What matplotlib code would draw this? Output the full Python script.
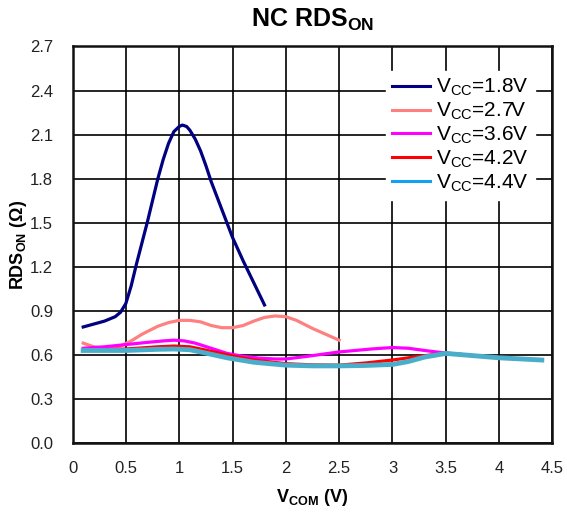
import matplotlib
matplotlib.use("Agg")
import matplotlib.pyplot as plt
from matplotlib.lines import Line2D

plt.rcParams['font.family'] = ['Liberation Sans', 'DejaVu Sans']
plt.rcParams['mathtext.fontset'] = 'custom'
plt.rcParams['mathtext.rm'] = 'Liberation Sans'
plt.rcParams['mathtext.bf'] = 'Liberation Sans:bold'
plt.rcParams['mathtext.it'] = 'Liberation Sans:italic'

# Data
x_18 = [0.1, 0.2, 0.3, 0.4, 0.45, 0.5, 0.55, 0.6, 0.65, 0.7, 0.75, 0.8, 0.85, 0.9,
        0.95, 1.0, 1.03, 1.07, 1.1, 1.15, 1.2, 1.25, 1.3, 1.4, 1.5, 1.6, 1.7, 1.8]
y_18 = [0.79, 0.81, 0.83, 0.86, 0.89, 0.95, 1.07, 1.22, 1.36, 1.50, 1.65, 1.80, 1.93, 2.04,
        2.12, 2.155, 2.165, 2.155, 2.13, 2.07, 1.99, 1.89, 1.78, 1.59, 1.40, 1.24, 1.09, 0.94]

x_27 = [0.1, 0.2, 0.3, 0.45, 0.55, 0.65, 0.8, 0.9, 1.0, 1.1, 1.2, 1.3, 1.4, 1.5, 1.6,
        1.7, 1.8, 1.9, 2.0, 2.1, 2.25, 2.5]
y_27 = [0.68, 0.655, 0.645, 0.66, 0.695, 0.74, 0.795, 0.82, 0.835, 0.835, 0.825, 0.80, 0.785,
        0.785, 0.80, 0.83, 0.855, 0.865, 0.86, 0.835, 0.78, 0.70]

x_36 = [0.1, 0.3, 0.5, 0.7, 0.85, 0.95, 1.05, 1.15, 1.3, 1.45, 1.6, 1.75, 1.9, 2.0, 2.2,
        2.5, 2.8, 3.0, 3.15, 3.3, 3.5, 4.0, 4.4]
y_36 = [0.645, 0.655, 0.67, 0.685, 0.695, 0.70, 0.695, 0.68, 0.645, 0.61, 0.59, 0.578, 0.572,
        0.572, 0.59, 0.62, 0.64, 0.65, 0.645, 0.63, 0.612, 0.58, 0.565]

x_42 = [0.1, 0.5, 0.8, 0.95, 1.1, 1.2, 1.45, 1.7, 2.0, 2.25, 2.5, 2.75, 3.0, 3.25, 3.5, 4.0, 4.4]
y_42 = [0.63, 0.64, 0.655, 0.66, 0.655, 0.64, 0.60, 0.565, 0.54, 0.532, 0.53, 0.545, 0.565,
        0.59, 0.612, 0.58, 0.565]

x_44 = [0.1, 0.5, 0.8, 0.95, 1.1, 1.2, 1.45, 1.7, 2.0, 2.25, 2.5, 2.75, 3.0, 3.15, 3.3,
        3.5, 4.0, 4.4]
y_44 = [0.63, 0.63, 0.638, 0.64, 0.635, 0.62, 0.58, 0.55, 0.53, 0.525, 0.525, 0.528, 0.535,
        0.555, 0.585, 0.61, 0.58, 0.565]

labels = ['1.8V', '2.7V', '3.6V', '4.2V', '4.4V']
x_ticks = [0, 0.5, 1, 1.5, 2, 2.5, 3, 3.5, 4, 4.5]
y_ticks = [0.0, 0.3, 0.6, 0.9, 1.2, 1.5, 1.8, 2.1, 2.4, 2.7]

fig = plt.figure(figsize=(5.67, 5.16), dpi=100)
ax = fig.add_axes([0.1279, 0.1415, 0.8465, 0.7684])

ax.plot(x_18, y_18, color='#000080', lw=2.3, zorder=3)
ax.plot(x_27, y_27, color='#FF8080', lw=2.3, zorder=3)
ax.plot(x_36, y_36, color='#FF00FF', lw=2.3, zorder=3)
ax.plot(x_42, y_42, color='#FF0000', lw=2.3, zorder=4)
ax.plot(x_44, y_44, color='#4AAECB', lw=3.5, zorder=5)

ax.set_xlim(0, 4.5)
ax.set_ylim(0, 2.7)
ax.set_xticks(x_ticks)
ax.set_xticklabels([f'{v:g}' for v in x_ticks])
ax.set_yticks(y_ticks)
ax.set_yticklabels([f'{v:.1f}' for v in y_ticks])
ax.tick_params(length=0, labelsize=12, colors='#222222', pad=13)
ax.tick_params(axis='y', pad=14)
ax.grid(True, color='black', lw=1.2)
for s in ax.spines.values():
    s.set_linewidth(1.8)
    s.set_color('#111111')

ax.set_title(r'$\mathbf{NC\ RDS_{ON}}$', fontsize=18, pad=14)
ax.set_xlabel(r'$\mathbf{V_{COM}\ (V)}$', fontsize=13, labelpad=8)
ax.set_ylabel(r'$\mathbf{RDS_{ON}\ (\Omega)}$', fontsize=13)
ax.yaxis.set_label_coords(-0.09, 0.5)

handle_colors = ['#000080', '#FF8080', '#FF00FF', '#FF0000', '#12A0F5']
handles = [Line2D([], [], color=c, lw=2.2) for c in handle_colors]
leg = ax.legend(handles, [r'V$_{\mathrm{CC}}$=' + l for l in labels],
                loc='upper right', bbox_to_anchor=(0.985, 0.965),
                fontsize=15, frameon=True, fancybox=False,
                edgecolor='white', facecolor='white', framealpha=1,
                handlelength=1.8, handletextpad=0.3, labelspacing=0.12,
                borderpad=0.3)
leg.set_zorder(10)

fig.savefig('out.png', dpi=100)
